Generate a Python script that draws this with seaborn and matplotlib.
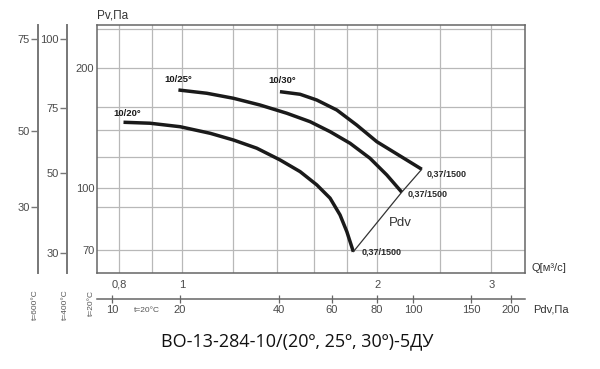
import matplotlib
matplotlib.use("Agg")
import matplotlib.pyplot as plt
import seaborn as sns

# fan curves: Q [m3/s] -> Pv [Pa]
q_20 = [0.812, 0.892, 0.993, 1.105, 1.200, 1.304, 1.416, 1.521, 1.614, 1.692, 1.753, 1.796, 1.838]
pv_20 = [146.3, 145.5, 142.6, 137.3, 132.1, 126.0, 117.8, 110.1, 102.0, 94.5, 85.8, 77.9, 69.4]
q_25 = [0.987, 1.092, 1.200, 1.319, 1.451, 1.576, 1.692, 1.817, 1.950, 2.070, 2.183]
pv_25 = [176.2, 172.9, 168.0, 161.6, 154.1, 146.8, 138.6, 129.6, 118.9, 108.0, 97.8]
q_30 = [1.416, 1.521, 1.614, 1.733, 1.860, 1.998, 2.170, 2.344]
pv_30 = [174.5, 171.9, 166.3, 157.0, 144.0, 130.8, 120.5, 111.6]
curve_names = ["10/20°", "10/25°", "10/30°"]
end_label = "0,37/1500"

# Pdv line through the curve end points
q_pdv = [1.838, 2.183, 2.344]
pv_pdv = [69.4, 97.8, 111.6]

# grid / ticks
q_grid = [0.8, 0.9, 1, 1.2, 1.4, 1.6, 1.8, 2, 2.5, 3]
q_labels = {0.8: "0,8", 1: "1", 2: "2", 3: "3"}
pv_grid = [70, 90, 100, 120, 140, 160, 200, 250]
pv_labels = {70: "70", 100: "100", 200: "200"}

# Pdv scale under the chart (value -> Q position)
pdv_values = ["10", "20", "40", "60", "80", "100", "150", "200"]
pdv_at_q = [0.78, 0.993, 1.411, 1.704, 2.0, 2.273, 2.794, 3.216]

# Pv scales for hot air (value -> Pv at 20°C position)
t600_values = ["75", "50", "30"]
t600_at_pv = [236.3, 139.2, 89.9]
t400_values = ["100", "75", "50", "30"]
t400_at_pv = [236.3, 158.9, 109.3, 69.0]

Q_LIM = (0.739, 3.383)
PV_LIM = (61.4, 256.2)

sns.set_style("white")
plt.rcParams["font.family"] = ["Liberation Sans", "DejaVu Sans"]

W, H = 600, 369
fig = plt.figure(figsize=(6, 3.69), dpi=100)


def box(x0, y0, x1, y1):
    return [x0 / W, 1 - y1 / H, (x1 - x0) / W, (y1 - y0) / H]


tick_col = "#4a4a4a"
grid_col = "#b8b8b8"

ax = fig.add_axes(box(97, 25, 525, 273))
ax.set_xscale("log")
ax.set_yscale("log")
ax.set_xlim(*Q_LIM)
ax.set_ylim(*PV_LIM)
ax.minorticks_off()
ax.set_xticks(q_grid)
ax.set_xticklabels([q_labels.get(q, "") for q in q_grid])
ax.set_yticks(pv_grid)
ax.set_yticklabels([pv_labels.get(p, "") for p in pv_grid])
ax.tick_params(axis="both", length=0, labelsize=8, colors=tick_col)
ax.tick_params(axis="x", pad=5)
ax.tick_params(axis="y", pad=2)
ax.grid(True, color=grid_col, lw=0.9)
for s in ax.spines.values():
    s.set_color("#666666")
    s.set_linewidth(1.1)

curves = [(q_20, pv_20), (q_25, pv_25), (q_30, pv_30)]
name_offsets = [(4, 9), (0, 10), (2, 11)]
end_offsets = [(8, 0), (6, -2), (5, -5)]
for (q, pv), name, noff, eoff in zip(curves, curve_names, name_offsets, end_offsets):
    sns.lineplot(x=q, y=pv, ax=ax, color="#1a1a1a", lw=2.5, sort=False,
                 estimator=None, solid_capstyle="butt", solid_joinstyle="round")
    ax.annotate(name, (q[0], pv[0]), xytext=noff, textcoords="offset pixels",
                ha="center", va="center", fontsize=6.8, fontweight="bold",
                color="#1a1a1a")
    ax.annotate(end_label, (q[-1], pv[-1]), xytext=eoff, textcoords="offset pixels",
                ha="left", va="center", fontsize=6.5, fontweight="bold",
                color="#2a2a2a")

sns.lineplot(x=q_pdv, y=pv_pdv, ax=ax, color="#333333", lw=0.9, sort=False,
             estimator=None)
ax.text(2.17, 81.9, "Pdv", ha="center", va="center", fontsize=9.5, color="#333333")
ax.set_xlabel("")
ax.set_ylabel("")

# Pdv scale
ax_pdv = fig.add_axes(box(97, 298, 525, 299))
ax_pdv.set_xscale("log")
ax_pdv.set_xlim(*Q_LIM)
ax_pdv.minorticks_off()
ax_pdv.set_xticks(pdv_at_q)
ax_pdv.set_xticklabels(pdv_values)
ax_pdv.set_yticks([])
for side in ["top", "left", "right"]:
    ax_pdv.spines[side].set_visible(False)
ax_pdv.spines["bottom"].set_color("#666666")
ax_pdv.spines["bottom"].set_linewidth(1.1)
ax_pdv.tick_params(axis="x", bottom=True, direction="inout", length=6, width=0.9,
                   color="#666666", labelsize=8, labelcolor=tick_col, pad=1)
ax_pdv.patch.set_alpha(0)

# hot-air Pv scales on the left
for x, vals, pos in [(38, t600_values, t600_at_pv), (67, t400_values, t400_at_pv)]:
    a = fig.add_axes(box(x, 25, x + 1, 273))
    a.set_yscale("log")
    a.set_ylim(*PV_LIM)
    a.minorticks_off()
    a.set_yticks(pos)
    a.set_yticklabels(vals)
    a.set_xticks([])
    for side in ["top", "bottom", "right"]:
        a.spines[side].set_visible(False)
    a.spines["left"].set_color("#777777")
    a.spines["left"].set_linewidth(1.4)
    a.tick_params(axis="y", left=True, direction="out", length=5, width=1,
                  color="#777777", labelsize=8, labelcolor=tick_col, pad=1)
    a.patch.set_alpha(0)

# axis names and temperature notes
fig.text(97 / W, 1 - 16 / H, "Pv,Па", ha="left", va="center", fontsize=8.5, color="#333333")
fig.text(531 / W, 1 - 268 / H, "Q[м³/с]", ha="left", va="center", fontsize=8, color="#333333")
fig.text(533 / W, 1 - 309 / H, "Pdv,Па", ha="left", va="center", fontsize=8, color="#333333")
fig.text(147 / W, 1 - 310 / H, "t=20°C", ha="center", va="center", fontsize=6, color="#555555")
for x, y, s in [(35, 305, "t=600°C"), (65, 305, "t=400°C"), (91, 303, "t=20°C")]:
    fig.text(x / W, 1 - y / H, s, ha="center", va="center", rotation=90,
             fontsize=6, color="#555555")

fig.text(297 / W, 1 - 341 / H, "ВО-13-284-10/(20º, 25º, 30º)-5ДУ", ha="center",
         va="center", fontsize=13, color="#111111", family=["Open Sans", "DejaVu Sans"])

fig.savefig("out.png", dpi=100)
